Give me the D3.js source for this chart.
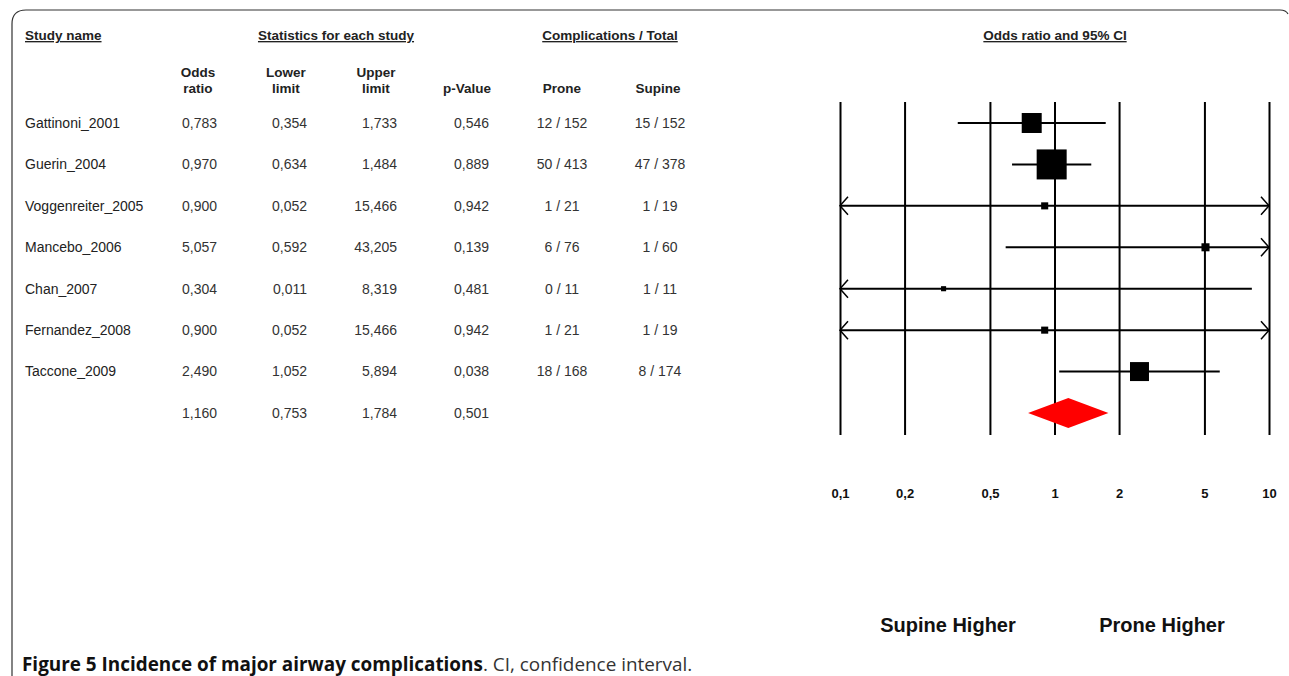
<!DOCTYPE html>
<html>
<head>
<meta charset="utf-8">
<script src="https://cdn.jsdelivr.net/npm/d3@7"></script>
<style>
  body { margin: 0; background: #fff; }
  svg { display: block; }
  text { font-family: "Liberation Sans", Arial, sans-serif; fill: #222; }
</style>
</head>
<body>
<svg width="1289" height="676"></svg>
<script>
// data
var studies = ["Gattinoni_2001", "Guerin_2004", "Voggenreiter_2005", "Mancebo_2006",
               "Chan_2007", "Fernandez_2008", "Taccone_2009"];
var oddsRatio = [0.783, 0.970, 0.900, 5.057, 0.304, 0.900, 2.490];
var lowerLimit = [0.354, 0.634, 0.052, 0.592, 0.011, 0.052, 1.052];
var upperLimit = [1.733, 1.484, 15.466, 43.205, 8.319, 15.466, 5.894];
var pValue = [0.546, 0.889, 0.942, 0.139, 0.481, 0.942, 0.038];
var prone = ["12 / 152", "50 / 413", "1 / 21", "6 / 76", "0 / 11", "1 / 21", "18 / 168"];
var supine = ["15 / 152", "47 / 378", "1 / 19", "1 / 60", "1 / 11", "1 / 19", "8 / 174"];
// relative weights (%) estimated from the square sizes
var weights = [21.6, 48.7, 2.7, 3.5, 1.4, 2.7, 19.5];
var summary = { or: 1.160, lower: 0.753, upper: 1.784, p: 0.501 };

var tickValues = [0.1, 0.2, 0.5, 1, 2, 5, 10];
var tickLabels = ["0,1", "0,2", "0,5", "1", "2", "5", "10"];

var svg = d3.select("svg");

var fmt3 = d3.formatLocale({ decimal: ",", thousands: ".", grouping: [3], currency: ["", ""] }).format(".3f");

// rows: 7 studies + summary
var y = d3.scalePoint()
    .domain(d3.range(studies.length + 1))
    .range([123, 413]);

var x = d3.scaleLog()
    .domain([0.1, 10])
    .range([840, 1269]);

var size = d3.scaleSqrt()
    .domain([0, d3.max(weights)])
    .range([0, 30]);

// frame with rounded top-left corner
svg.append("path")
    .attr("d", "M12,676 L12,24 Q12,10 26,10 L1280,10 Q1286,10 1288,14")
    .attr("fill", "none")
    .attr("stroke", "#333")
    .attr("stroke-width", 1.2);

// top headers
function header(txt, xx, anchor) {
  svg.append("text")
    .attr("x", xx).attr("y", 40)
    .attr("text-anchor", anchor)
    .style("font-weight", "bold")
    .style("font-size", "13.5px")
    .style("text-decoration", "underline")
    .text(txt);
}
header("Study name", 25, "start");
header("Statistics for each study", 336, "middle");
header("Complications / Total", 610, "middle");
header("Odds ratio and 95% CI", 1055, "middle");

// sub headers
var subHeads = [
  { x: 198, lines: ["Odds", "ratio"] },
  { x: 286, lines: ["Lower", "limit"] },
  { x: 376, lines: ["Upper", "limit"] },
  { x: 467, lines: ["p-Value"] },
  { x: 562, lines: ["Prone"] },
  { x: 658, lines: ["Supine"] }
];
subHeads.forEach(function(h) {
  h.lines.forEach(function(l, i) {
    var yy = h.lines.length == 2 ? 77 + i * 16 : 93;
    svg.append("text")
      .attr("x", h.x).attr("y", yy)
      .attr("text-anchor", "middle")
      .style("font-weight", "bold")
      .style("font-size", "13.5px")
      .text(l);
  });
});

// table body
var rows = studies.map(function(s, i) {
  return { name: s, or: oddsRatio[i], lo: lowerLimit[i], hi: upperLimit[i],
           p: pValue[i], prone: prone[i], supine: supine[i], w: weights[i], i: i };
});

var cols = [
  { x: 217, anchor: "end", get: function(d) { return fmt3(d.or); } },
  { x: 307, anchor: "end", get: function(d) { return fmt3(d.lo); } },
  { x: 397, anchor: "end", get: function(d) { return fmt3(d.hi); } },
  { x: 489, anchor: "end", get: function(d) { return fmt3(d.p); } },
  { x: 562, anchor: "middle", get: function(d) { return d.prone || ""; } },
  { x: 660, anchor: "middle", get: function(d) { return d.supine || ""; } }
];

var allRows = rows.concat([{ name: "", or: summary.or, lo: summary.lower, hi: summary.upper,
                             p: summary.p, i: studies.length }]);

var tg = svg.append("g").style("font-size", "14px");
tg.selectAll(".name")
  .data(allRows)
  .enter().append("text")
    .attr("x", 25)
    .attr("y", function(d) { return y(d.i); })
    .attr("dy", "0.35em")
    .text(function(d) { return d.name; });

cols.forEach(function(c) {
  tg.selectAll(null)
    .data(allRows)
    .enter().append("text")
      .attr("x", c.x)
      .attr("y", function(d) { return y(d.i); })
      .attr("dy", "0.35em")
      .attr("text-anchor", c.anchor)
      .style("fill", "#333")
      .text(c.get);
});

// forest plot axis: long vertical lines
var axisG = svg.append("g")
    .attr("transform", "translate(0,435)")
    .call(d3.axisBottom(x)
      .tickValues(tickValues)
      .tickFormat(function(d, i) { return tickLabels[i]; })
      .tickSizeInner(-(435 - 102))
      .tickSizeOuter(0)
      .tickPadding(54));
axisG.select(".domain").remove();
axisG.selectAll(".tick line").attr("stroke", "#000").attr("stroke-width", 2);
axisG.selectAll(".tick text")
    .style("font-family", "'Liberation Sans', Arial, sans-serif")
    .style("font-weight", "bold")
    .style("font-size", "13px")
    .style("fill", "#111");

// CI lines, with arrows where they leave the plot
var lo = x.domain()[0], hi = x.domain()[1];
var ci = svg.append("g");
rows.forEach(function(d) {
  var yy = y(d.i);
  var x1 = x(Math.max(d.lo, lo)), x2 = x(Math.min(d.hi, hi));
  ci.append("line")
    .attr("x1", x1).attr("x2", x2)
    .attr("y1", yy).attr("y2", yy)
    .attr("stroke", "#000").attr("stroke-width", 2);
  if (d.lo < lo) {
    ci.append("path")
      .attr("d", "M" + (x1 + 8) + "," + (yy - 9) + "L" + x1 + "," + yy + "L" + (x1 + 8) + "," + (yy + 9))
      .attr("fill", "none").attr("stroke", "#000").attr("stroke-width", 1.5);
  }
  if (d.hi > hi) {
    ci.append("path")
      .attr("d", "M" + (x2 - 8) + "," + (yy - 9) + "L" + x2 + "," + yy + "L" + (x2 - 8) + "," + (yy + 9))
      .attr("fill", "none").attr("stroke", "#000").attr("stroke-width", 1.5);
  }
  var s = size(d.w);
  ci.append("rect")
    .attr("x", x(d.or) - s / 2)
    .attr("y", yy - s / 2)
    .attr("width", s)
    .attr("height", s)
    .attr("fill", "#000");
});

// summary diamond
var sy = y(studies.length);
svg.append("path")
    .attr("d", "M" + x(summary.lower) + "," + sy +
               "L" + x(summary.or) + "," + (sy - 15) +
               "L" + x(summary.upper) + "," + sy +
               "L" + x(summary.or) + "," + (sy + 15) + "Z")
    .attr("fill", "#ff0000");

// favours labels
svg.append("text")
    .attr("x", 948).attr("y", 632)
    .attr("text-anchor", "middle")
    .style("font-weight", "bold").style("font-size", "20px")
    .style("fill", "#111")
    .text("Supine Higher");
svg.append("text")
    .attr("x", 1162).attr("y", 632)
    .attr("text-anchor", "middle")
    .style("font-weight", "bold").style("font-size", "20px")
    .style("fill", "#111")
    .text("Prone Higher");

// caption
var cap = svg.append("text")
    .attr("x", 22).attr("y", 671)
    .style("font-family", "'Open Sans', 'Noto Sans', sans-serif")
    .style("font-size", "18.9px");
cap.append("tspan").style("font-weight", "bold").style("fill", "#111")
    .text("Figure 5 Incidence of major airway complications");
cap.append("tspan").style("fill", "#333")
    .text(". CI, confidence interval.");
</script>
</body>
</html>
